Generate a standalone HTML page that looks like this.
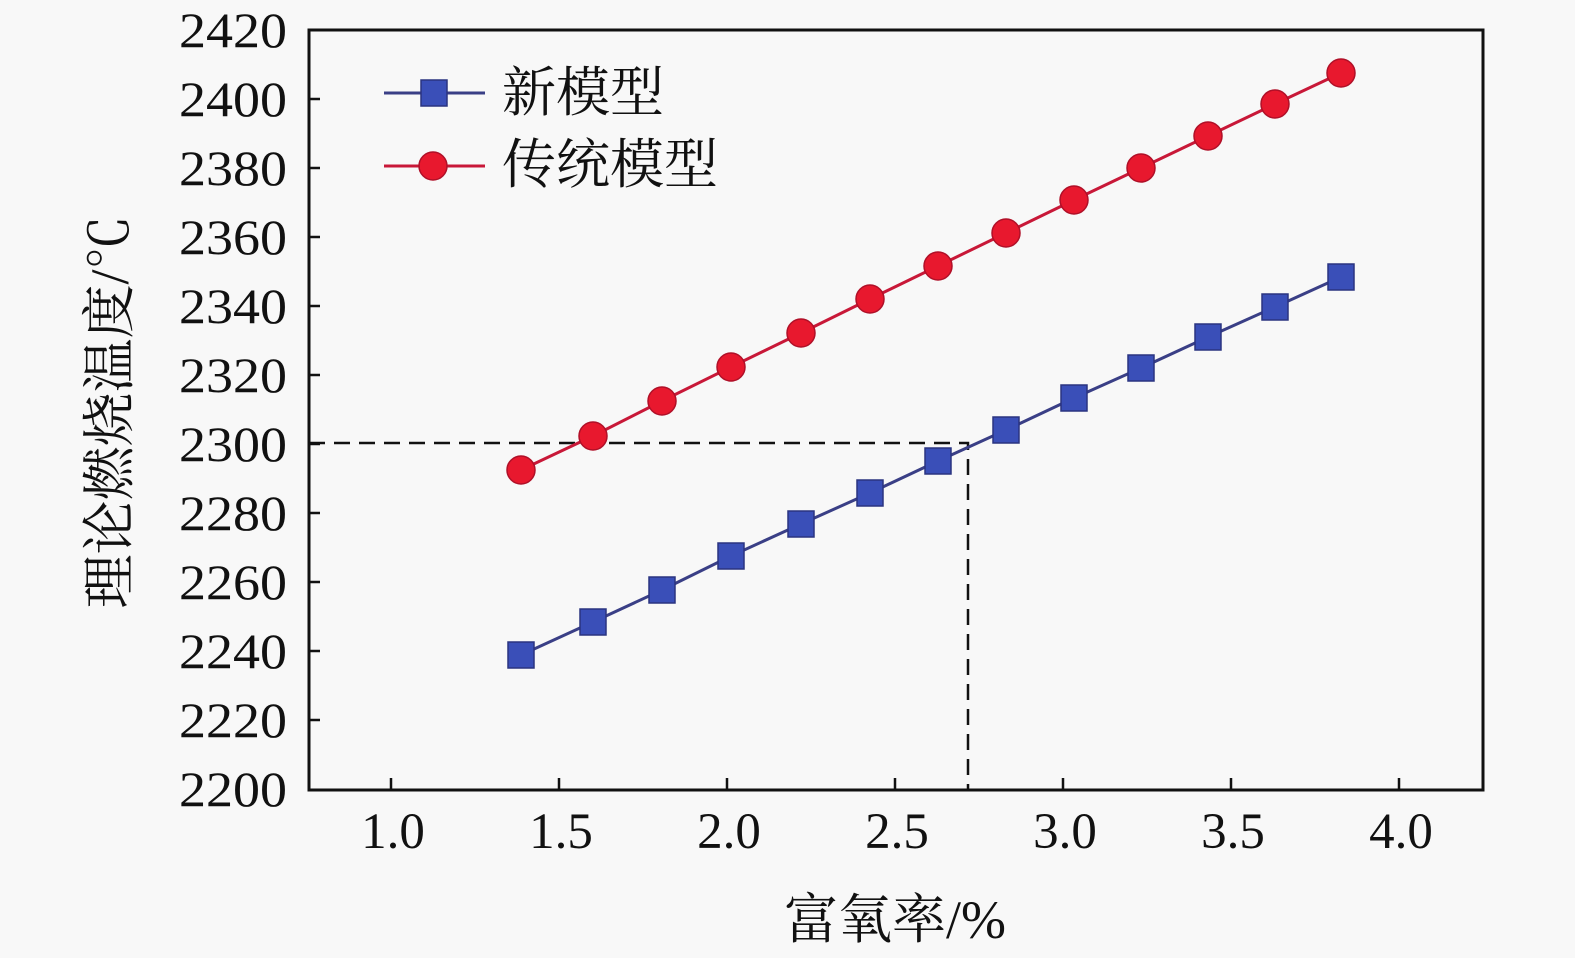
<!DOCTYPE html>
<html><head><meta charset="utf-8"><style>
html,body{margin:0;padding:0;background:#f8f8f8;}
svg{display:block;}
text{font-family:"Liberation Serif","Noto Serif CJK SC",serif;fill:#111;}
</style></head><body>
<svg width="1575" height="958" viewBox="0 0 1575 958">
<rect width="1575" height="958" fill="#f8f8f8"/>
<path d="M309 443 H968 V790" fill="none" stroke="#111" stroke-width="2.5" stroke-dasharray="16,9"/>
<rect x="309" y="30" width="1174" height="760" fill="none" stroke="#111" stroke-width="3"/>
<g stroke="#111" stroke-width="2.5">
<line x1="309" y1="99" x2="320" y2="99"/><line x1="309" y1="168" x2="320" y2="168"/>
<line x1="309" y1="237" x2="320" y2="237"/><line x1="309" y1="306" x2="320" y2="306"/>
<line x1="309" y1="375" x2="320" y2="375"/><line x1="309" y1="444" x2="320" y2="444"/>
<line x1="309" y1="513" x2="320" y2="513"/><line x1="309" y1="582" x2="320" y2="582"/>
<line x1="309" y1="651" x2="320" y2="651"/><line x1="309" y1="720" x2="320" y2="720"/>
<line x1="391" y1="790" x2="391" y2="778"/><line x1="559" y1="790" x2="559" y2="778"/>
<line x1="727" y1="790" x2="727" y2="778"/><line x1="895" y1="790" x2="895" y2="778"/>
<line x1="1063" y1="790" x2="1063" y2="778"/><line x1="1231" y1="790" x2="1231" y2="778"/>
<line x1="1399" y1="790" x2="1399" y2="778"/>
</g>
<g font-size="50">
<text x="179" y="47" textLength="108" lengthAdjust="spacingAndGlyphs">2420</text>
<text x="179" y="116" textLength="108" lengthAdjust="spacingAndGlyphs">2400</text>
<text x="179" y="185" textLength="108" lengthAdjust="spacingAndGlyphs">2380</text>
<text x="179" y="254" textLength="108" lengthAdjust="spacingAndGlyphs">2360</text>
<text x="179" y="323" textLength="108" lengthAdjust="spacingAndGlyphs">2340</text>
<text x="179" y="392" textLength="108" lengthAdjust="spacingAndGlyphs">2320</text>
<text x="179" y="461" textLength="108" lengthAdjust="spacingAndGlyphs">2300</text>
<text x="179" y="530" textLength="108" lengthAdjust="spacingAndGlyphs">2280</text>
<text x="179" y="599" textLength="108" lengthAdjust="spacingAndGlyphs">2260</text>
<text x="179" y="668" textLength="108" lengthAdjust="spacingAndGlyphs">2240</text>
<text x="179" y="737" textLength="108" lengthAdjust="spacingAndGlyphs">2220</text>
<text x="179" y="806" textLength="108" lengthAdjust="spacingAndGlyphs">2200</text>
</g>
<g font-size="51" text-anchor="middle">
<text x="393" y="848">1.0</text><text x="561" y="848">1.5</text><text x="729" y="848">2.0</text>
<text x="897" y="848">2.5</text><text x="1065" y="848">3.0</text><text x="1233" y="848">3.5</text>
<text x="1401" y="848">4.0</text>
</g>
<text x="895" y="938" font-size="54" text-anchor="middle">富氧率/%</text>
<text transform="translate(128,412) rotate(-90)" font-size="54" text-anchor="middle">理论燃烧温度/℃</text>
<polyline fill="none" stroke="#3a3f86" stroke-width="3" points="521,655 593,622 662,590 731,556 801,524 870,493 938,461 1006,430 1074,398 1141,368 1208,337 1275,307 1341,277"/>
<polyline fill="none" stroke="#c81838" stroke-width="3" points="521,470 593,436 662,401 731,367 801,333 870,299 938,266 1006,233 1074,200 1141,168 1208,136 1275,104 1341,73"/>
<g fill="#3a4fb8" stroke="#2a3480" stroke-width="1.5">
<rect x="508" y="642" width="26" height="26"/><rect x="580" y="609" width="26" height="26"/>
<rect x="649" y="577" width="26" height="26"/><rect x="718" y="543" width="26" height="26"/>
<rect x="788" y="511" width="26" height="26"/><rect x="857" y="480" width="26" height="26"/>
<rect x="925" y="448" width="26" height="26"/><rect x="993" y="417" width="26" height="26"/>
<rect x="1061" y="385" width="26" height="26"/><rect x="1128" y="355" width="26" height="26"/>
<rect x="1195" y="324" width="26" height="26"/><rect x="1262" y="294" width="26" height="26"/>
<rect x="1328" y="264" width="26" height="26"/>
</g>
<g fill="#e8182e" stroke="#b01028" stroke-width="1.5">
<circle cx="521" cy="470" r="14"/><circle cx="593" cy="436" r="14"/><circle cx="662" cy="401" r="14"/>
<circle cx="731" cy="367" r="14"/><circle cx="801" cy="333" r="14"/><circle cx="870" cy="299" r="14"/>
<circle cx="938" cy="266" r="14"/><circle cx="1006" cy="233" r="14"/><circle cx="1074" cy="200" r="14"/>
<circle cx="1141" cy="168" r="14"/><circle cx="1208" cy="136" r="14"/><circle cx="1275" cy="104" r="14"/>
<circle cx="1341" cy="73" r="14"/>
</g>
<line x1="384" y1="93" x2="485" y2="93" stroke="#3a3f86" stroke-width="3"/>
<rect x="421" y="80" width="26" height="26" fill="#3a4fb8" stroke="#2a3480" stroke-width="1.5"/>
<line x1="384" y1="166" x2="485" y2="166" stroke="#c81838" stroke-width="3"/>
<circle cx="433" cy="166" r="14" fill="#e8182e" stroke="#b01028" stroke-width="1.5"/>
<text x="502" y="111" font-size="54">新模型</text>
<text x="502" y="183" font-size="54">传统模型</text>
</svg>
</body></html>
